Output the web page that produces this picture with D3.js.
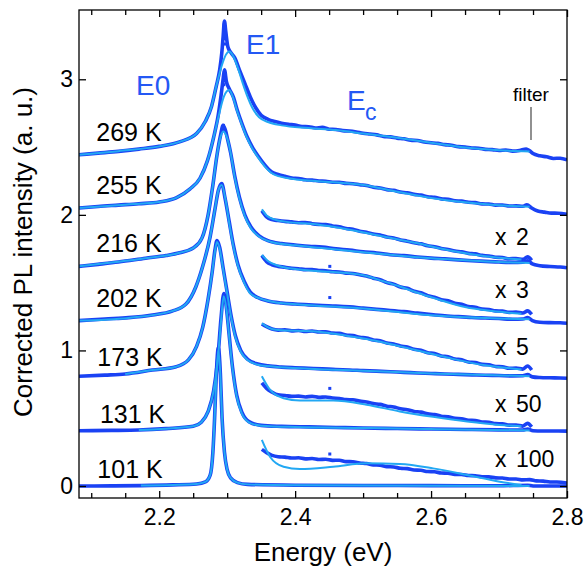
<!DOCTYPE html>
<html>
<head>
<meta charset="utf-8">
<script src="https://cdn.jsdelivr.net/npm/d3@7/dist/d3.min.js"></script>
<style>
  body { margin: 0; background: #fff; }
  svg text { font-family: "Liberation Sans", Arial, Helvetica, sans-serif; }
</style>
</head>
<body>
<div id="chart"></div>
<script>
// ---- data (energy in eV, intensity in a.u.) ----
const temps = ['269 K', '255 K', '216 K', '202 K', '173 K', '131 K', '101 K'];
const factors = ['x 2', 'x 3', 'x 5', 'x 50', 'x 100'];
const xMajor = [2.2, 2.4, 2.6, 2.8];
const xMinor = [2.1, 2.15, 2.25, 2.3, 2.35, 2.45, 2.5, 2.55, 2.65, 2.7, 2.75];
const yMajor = [0, 1, 2, 3];

// measured spectra
const meas269 = [[2.082,2.443],[2.11,2.455],[2.14,2.468],[2.17,2.485],[2.2,2.505],[2.231,2.54],[2.255,2.6],[2.268,2.69],[2.277,2.8],[2.284,2.95],[2.289,3.07],[2.292,3.19],[2.294,3.31],[2.296,3.43],[2.298,3.35],[2.301,3.24],[2.305,3.2],[2.311,3.16],[2.318,3.07],[2.326,2.97],[2.334,2.87],[2.342,2.79],[2.35,2.735],
  [2.36,2.705],[2.37,2.688],[2.38,2.676],[2.39,2.668],[2.4,2.662],[2.41,2.652],[2.42,2.65],[2.43,2.641],[2.44,2.645],[2.45,2.632],[2.46,2.63],[2.47,2.621],[2.48,2.618],[2.49,2.611],[2.5,2.602],[2.51,2.596],[2.52,2.59],[2.53,2.578],[2.54,2.575],[2.55,2.566],[2.56,2.561],[2.57,2.551],[2.58,2.548],[2.59,2.537],[2.6,2.532],[2.61,2.527],[2.62,2.518],[2.63,2.514],[2.64,2.503],[2.65,2.5],[2.66,2.493],[2.67,2.491],[2.68,2.483],[2.69,2.481],[2.7,2.475],[2.71,2.478],[2.72,2.47],[2.73,2.474],[2.74,2.486],[2.745,2.472],[2.75,2.452],[2.76,2.436],[2.77,2.428],[2.78,2.416],[2.79,2.418],[2.8,2.405]];
const meas255 = [[2.082,2.05],[2.11,2.062],[2.14,2.072],[2.17,2.082],[2.2,2.095],[2.225,2.125],[2.245,2.19],[2.26,2.27],[2.271,2.4],[2.28,2.57],[2.287,2.74],[2.291,2.88],[2.294,3.0],[2.296,3.07],[2.299,2.98],[2.303,2.93],[2.309,2.87],[2.315,2.77],[2.322,2.67],[2.329,2.58],[2.337,2.5],[2.346,2.43],[2.355,2.37],
  [2.365,2.318],[2.375,2.298],[2.385,2.284],[2.395,2.272],[2.405,2.268],[2.415,2.259],[2.425,2.256],[2.435,2.25],[2.445,2.248],[2.455,2.241],[2.465,2.24],[2.475,2.232],[2.485,2.23],[2.495,2.222],[2.505,2.216],[2.515,2.204],[2.525,2.198],[2.535,2.186],[2.545,2.181],[2.555,2.168],[2.565,2.163],[2.575,2.151],[2.585,2.146],[2.595,2.134],[2.605,2.129],[2.615,2.118],[2.625,2.114],[2.635,2.104],[2.645,2.101],[2.655,2.093],[2.665,2.09],[2.675,2.081],[2.685,2.08],[2.695,2.072],[2.705,2.073],[2.715,2.065],[2.725,2.066],[2.735,2.063],[2.741,2.075],[2.748,2.05],[2.757,2.028],[2.767,2.02],[2.777,2.013],[2.787,2.012],[2.8,2.004]];
const meas216 = [[2.082,1.62],[2.11,1.635],[2.14,1.652],[2.18,1.68],[2.21,1.7],[2.23,1.72],[2.25,1.755],[2.263,1.83],[2.272,2.0],[2.279,2.22],[2.285,2.44],[2.29,2.58],[2.294,2.66],[2.297,2.63],[2.301,2.55],[2.305,2.46],[2.311,2.29],[2.318,2.13],[2.326,2.0],[2.335,1.91],[2.347,1.845],
  [2.36,1.81],[2.38,1.788],[2.4,1.778],[2.42,1.768],[2.44,1.762],[2.46,1.749],[2.48,1.74],[2.5,1.728],[2.52,1.719],[2.54,1.706],[2.56,1.699],[2.58,1.689],[2.6,1.681],[2.62,1.675],[2.64,1.668],[2.66,1.662],[2.68,1.657],[2.7,1.652],[2.72,1.649],[2.735,1.651],[2.742,1.662],[2.749,1.638],[2.76,1.625],[2.775,1.619],[2.79,1.615],[2.8,1.61]];
const meas202 = [[2.082,1.22],[2.12,1.232],[2.155,1.242],[2.19,1.262],[2.219,1.29],[2.239,1.34],[2.254,1.47],[2.264,1.62],[2.275,1.84],[2.282,2.04],[2.287,2.18],[2.292,2.23],[2.297,2.12],[2.303,1.95],[2.309,1.78],[2.316,1.63],[2.325,1.51],[2.334,1.43],[2.345,1.39],
  [2.36,1.365],[2.38,1.35],[2.4,1.342],[2.42,1.336],[2.44,1.331],[2.46,1.327],[2.48,1.321],[2.5,1.312],[2.52,1.303],[2.54,1.295],[2.56,1.286],[2.58,1.275],[2.6,1.265],[2.62,1.256],[2.64,1.249],[2.66,1.243],[2.68,1.239],[2.7,1.235],[2.72,1.23],[2.735,1.232],[2.742,1.242],[2.749,1.22],[2.76,1.208],[2.775,1.205],[2.79,1.204],[2.8,1.2]];
const meas173 = [[2.082,0.81],[2.12,0.818],[2.15,0.826],[2.19,0.855],[2.225,0.88],[2.243,0.93],[2.255,1.03],[2.264,1.17],[2.272,1.38],[2.278,1.58],[2.282,1.74],[2.285,1.81],[2.289,1.76],[2.294,1.61],[2.3,1.43],[2.306,1.25],[2.312,1.11],[2.32,1.0],[2.33,0.935],[2.345,0.9],
  [2.36,0.886],[2.38,0.877],[2.4,0.872],[2.42,0.868],[2.44,0.864],[2.46,0.859],[2.48,0.856],[2.5,0.851],[2.52,0.847],[2.54,0.843],[2.56,0.838],[2.58,0.834],[2.6,0.83],[2.62,0.826],[2.64,0.823],[2.66,0.82],[2.68,0.817],[2.7,0.815],[2.72,0.812],[2.735,0.813],[2.742,0.822],[2.749,0.805],[2.76,0.8],[2.775,0.798],[2.79,0.797],[2.8,0.795]];
const meas131 = [[2.082,0.408],[2.13,0.41],[2.17,0.413],[2.21,0.423],[2.25,0.44],[2.262,0.47],[2.272,0.55],[2.28,0.7],[2.286,0.93],[2.291,1.24],[2.295,1.42],[2.299,1.31],[2.303,1.11],[2.308,0.87],[2.314,0.67],[2.322,0.54],[2.332,0.475],[2.35,0.447],[2.38,0.44],[2.42,0.436],[2.46,0.432],[2.5,0.428],[2.55,0.424],[2.6,0.42],[2.65,0.417],[2.7,0.414],[2.735,0.413],[2.742,0.42],[2.75,0.408],[2.77,0.406],[2.8,0.405]];
const meas101 = [[2.082,0.0],[2.13,0.001],[2.173,0.003],[2.22,0.008],[2.255,0.015],[2.268,0.03],[2.275,0.08],[2.279,0.25],[2.2815,0.5],[2.284,0.82],[2.287,1.02],[2.29,0.83],[2.2925,0.5],[2.296,0.25],[2.3,0.12],[2.305,0.06],[2.315,0.025],[2.33,0.012],[2.4,0.006],[2.5,0.004],[2.6,0.003],[2.7,0.002],[2.742,0.006],[2.75,0.0],[2.8,0.0]];

// magnified tails, measured
const measX2 = [[2.351,2.03],[2.358,1.985],[2.366,1.965],[2.375,1.958],[2.385,1.952],[2.395,1.948],[2.405,1.942],[2.415,1.944],[2.425,1.935],[2.435,1.93],[2.445,1.928],[2.455,1.918],[2.465,1.912],[2.475,1.9],[2.485,1.893],[2.495,1.879],[2.505,1.872],[2.515,1.858],[2.525,1.851],[2.535,1.836],[2.545,1.829],[2.555,1.815],[2.565,1.806],[2.575,1.795],[2.585,1.786],[2.595,1.772],[2.605,1.765],[2.615,1.752],[2.625,1.745],[2.635,1.733],[2.645,1.727],[2.655,1.716],[2.665,1.712],[2.675,1.701],[2.685,1.697],[2.695,1.687],[2.705,1.685],[2.715,1.676],[2.725,1.678],[2.735,1.672],[2.742,1.69],[2.748,1.665]];
const measX3 = [[2.351,1.7],[2.358,1.655],[2.366,1.632],[2.375,1.62],[2.385,1.614],[2.395,1.606],[2.405,1.603],[2.415,1.596],[2.425,1.597],[2.435,1.589],[2.445,1.588],[2.455,1.58],[2.465,1.579],[2.475,1.57],[2.485,1.568],[2.495,1.558],[2.505,1.549],[2.515,1.533],[2.525,1.521],[2.535,1.5],[2.545,1.489],[2.555,1.468],[2.565,1.458],[2.575,1.437],[2.585,1.425],[2.595,1.404],[2.605,1.393],[2.615,1.374],[2.625,1.366],[2.635,1.348],[2.645,1.341],[2.655,1.324],[2.665,1.319],[2.675,1.305],[2.685,1.302],[2.695,1.292],[2.705,1.29],[2.715,1.281],[2.725,1.283],[2.735,1.276],[2.742,1.292],[2.748,1.266]];
const measX5 = [[2.351,1.195],[2.358,1.175],[2.366,1.158],[2.375,1.15],[2.385,1.152],[2.395,1.144],[2.405,1.147],[2.415,1.14],[2.425,1.143],[2.435,1.136],[2.445,1.137],[2.455,1.128],[2.465,1.126],[2.475,1.113],[2.485,1.109],[2.495,1.097],[2.505,1.091],[2.515,1.077],[2.525,1.071],[2.535,1.055],[2.545,1.047],[2.555,1.033],[2.565,1.025],[2.575,1.008],[2.585,1.001],[2.595,0.983],[2.605,0.977],[2.615,0.959],[2.625,0.953],[2.635,0.937],[2.645,0.931],[2.655,0.915],[2.665,0.911],[2.675,0.897],[2.685,0.894],[2.695,0.882],[2.705,0.879],[2.715,0.868],[2.725,0.87],[2.735,0.862],[2.742,0.885],[2.748,0.856]];
const measX50 = [[2.351,0.76],[2.358,0.72],[2.366,0.692],[2.375,0.672],[2.385,0.668],[2.395,0.661],[2.405,0.663],[2.415,0.657],[2.425,0.661],[2.435,0.654],[2.445,0.657],[2.455,0.649],[2.465,0.646],[2.475,0.637],[2.485,0.636],[2.495,0.626],[2.505,0.619],[2.515,0.608],[2.525,0.602],[2.535,0.589],[2.545,0.583],[2.555,0.57],[2.565,0.563],[2.575,0.55],[2.585,0.545],[2.595,0.532],[2.605,0.527],[2.615,0.515],[2.625,0.511],[2.635,0.499],[2.645,0.496],[2.655,0.485],[2.665,0.483],[2.675,0.472],[2.685,0.47],[2.695,0.46],[2.705,0.459],[2.715,0.449],[2.725,0.45],[2.735,0.442],[2.742,0.462],[2.748,0.436]];
const measX100 = [[2.351,0.27],[2.358,0.246],[2.366,0.226],[2.375,0.216],[2.385,0.213],[2.395,0.206],[2.405,0.208],[2.415,0.2],[2.425,0.203],[2.435,0.196],[2.445,0.197],[2.455,0.189],[2.465,0.19],[2.475,0.18],[2.485,0.179],[2.495,0.17],[2.505,0.166],[2.515,0.156],[2.525,0.153],[2.535,0.143],[2.545,0.14],[2.555,0.131],[2.565,0.128],[2.575,0.118],[2.585,0.116],[2.595,0.107],[2.605,0.105],[2.615,0.096],[2.625,0.094],[2.635,0.086],[2.645,0.085],[2.655,0.077],[2.665,0.076],[2.675,0.068],[2.685,0.067],[2.695,0.06],[2.705,0.059],[2.715,0.052],[2.725,0.052],[2.735,0.045],[2.745,0.047],[2.755,0.038],[2.765,0.036],[2.775,0.03],[2.785,0.029],[2.8,0.022]];

// isolated data points (narrow peak tops, spikes)
const dots = [[2.2955,3.40],[2.2962,3.36],[2.2955,3.30],[2.2965,3.26],[2.2958,3.05],[2.2963,3.01],[2.295,2.96],[2.2945,2.66],[2.2955,2.62],[2.451,1.62],[2.451,1.39],[2.451,0.72],[2.451,0.236]];

// fitted curves
const fit269 = [[2.082,2.443],[2.14,2.47],[2.2,2.505],[2.231,2.54],[2.255,2.6],[2.268,2.69],[2.277,2.8],[2.284,2.95],[2.292,3.1],[2.298,3.18],[2.303,3.205],[2.309,3.17],[2.316,3.08],[2.323,2.97],[2.33,2.87],[2.338,2.78],[2.347,2.72],[2.36,2.685],[2.38,2.66],[2.42,2.64],[2.46,2.625],[2.5,2.6],[2.55,2.568],[2.6,2.532],[2.65,2.497],[2.7,2.476],[2.745,2.468]];
const fit255 = [[2.082,2.05],[2.15,2.075],[2.2,2.095],[2.225,2.125],[2.245,2.19],[2.26,2.27],[2.271,2.4],[2.28,2.57],[2.288,2.74],[2.295,2.87],[2.303,2.92],[2.309,2.86],[2.315,2.76],[2.322,2.66],[2.329,2.57],[2.337,2.49],[2.346,2.42],[2.355,2.36],[2.368,2.3],[2.39,2.27],[2.43,2.25],[2.47,2.235],[2.5,2.22],[2.55,2.17],[2.6,2.125],[2.65,2.093],[2.7,2.07],[2.745,2.06]];
const fit216 = [[2.082,1.62],[2.13,1.648],[2.18,1.68],[2.23,1.72],[2.25,1.755],[2.263,1.83],[2.272,2.0],[2.279,2.22],[2.285,2.44],[2.29,2.57],[2.294,2.615],[2.299,2.58],[2.305,2.46],[2.311,2.28],[2.318,2.12],[2.326,1.99],[2.335,1.9],[2.347,1.84],[2.365,1.8],[2.4,1.775],[2.45,1.75],[2.5,1.725],[2.55,1.7],[2.6,1.68],[2.65,1.665],[2.7,1.652],[2.745,1.645]];
const fit202 = [[2.082,1.22],[2.155,1.24],[2.219,1.29],[2.239,1.34],[2.254,1.47],[2.264,1.62],[2.275,1.84],[2.282,2.04],[2.287,2.18],[2.292,2.22],[2.298,2.1],[2.303,1.94],[2.309,1.77],[2.316,1.62],[2.325,1.5],[2.334,1.42],[2.35,1.38],[2.37,1.355],[2.4,1.34],[2.5,1.31],[2.6,1.26],[2.745,1.23]];
const fit173 = [[2.15,0.826],[2.19,0.855],[2.225,0.88],[2.243,0.93],[2.255,1.03],[2.264,1.17],[2.272,1.38],[2.278,1.58],[2.282,1.73],[2.285,1.8],[2.289,1.75],[2.294,1.6],[2.3,1.42],[2.306,1.24],[2.312,1.1],[2.32,0.99],[2.33,0.93],[2.345,0.895],[2.37,0.88],[2.42,0.865],[2.5,0.85],[2.6,0.83],[2.745,0.81]];
const fit131 = [[2.17,0.413],[2.21,0.423],[2.25,0.44],[2.262,0.47],[2.272,0.55],[2.28,0.7],[2.286,0.92],[2.291,1.22],[2.295,1.4],[2.299,1.3],[2.303,1.1],[2.308,0.86],[2.314,0.66],[2.322,0.53],[2.332,0.47],[2.35,0.445],[2.4,0.435],[2.5,0.428],[2.6,0.42],[2.745,0.41]];
const fit101 = [[2.173,0.003],[2.22,0.008],[2.255,0.015],[2.268,0.03],[2.275,0.08],[2.279,0.25],[2.2815,0.5],[2.284,0.8],[2.287,1.0],[2.29,0.82],[2.2925,0.5],[2.296,0.25],[2.3,0.12],[2.305,0.06],[2.315,0.025],[2.33,0.012],[2.4,0.005],[2.745,0.0]];

// fitted magnified tails
const fitX2 = [[2.351,2.04],[2.358,1.995],[2.37,1.965],[2.385,1.95],[2.43,1.93],[2.48,1.89],[2.53,1.84],[2.58,1.79],[2.63,1.735],[2.68,1.695],[2.733,1.67]];
const fitX3 = [[2.351,1.705],[2.36,1.66],[2.375,1.625],[2.4,1.6],[2.45,1.58],[2.5,1.555],[2.53,1.51],[2.555,1.47],[2.58,1.425],[2.605,1.385],[2.65,1.32],[2.69,1.29],[2.733,1.27]];
const fitX5 = [[2.351,1.2],[2.36,1.17],[2.375,1.15],[2.43,1.14],[2.48,1.105],[2.52,1.07],[2.555,1.03],[2.6,0.975],[2.63,0.94],[2.68,0.89],[2.733,0.86]];
const fitX50 = [[2.351,0.81],[2.363,0.71],[2.383,0.647],[2.407,0.63],[2.456,0.63],[2.505,0.6],[2.554,0.55],[2.603,0.51],[2.653,0.475],[2.701,0.45],[2.733,0.44]];
const fitX100 = [[2.351,0.34],[2.363,0.216],[2.383,0.142],[2.407,0.125],[2.456,0.142],[2.505,0.167],[2.554,0.162],[2.603,0.13],[2.653,0.081],[2.701,0.032],[2.733,0.007]];

const measured = [meas269, meas255, meas216, meas202, meas173, meas131, meas101,
                  measX2, measX3, measX5, measX50, measX100];
const fitted = [fit269, fit255, fit216, fit202, fit173, fit131, fit101,
                fitX2, fitX3, fitX5, fitX50, fitX100];

// ---- layout ----
const W = 585, H = 569;
const dark = '#1a42f4';
const light = '#22a8f3';
const labelBlue = '#2458f4';

const svg = d3.select('#chart').append('svg')
  .attr('width', W).attr('height', H)
  .attr('viewBox', `0 0 ${W} ${H}`);

const x = d3.scaleLinear().domain([2.082, 2.8]).range([79, 567]);
const y = d3.scaleLinear().domain([-0.0885, 3.511]).range([498, 10]);

const plot = svg.append('g');
plot.append('clipPath').attr('id', 'clip')
  .append('rect').attr('x', 79).attr('y', 10).attr('width', 488).attr('height', 488);

const line = d3.line().x(d => x(d[0])).y(d => y(d[1])).curve(d3.curveMonotoneX);
const curves = plot.append('g').attr('clip-path', 'url(#clip)');

measured.forEach(s => {
  curves.append('path').attr('d', line(s))
    .attr('fill', 'none').attr('stroke', dark)
    .attr('stroke-width', 3.6).attr('stroke-linejoin', 'round');
});

curves.selectAll('.dot').data(dots).enter().append('rect')
  .attr('class', 'dot')
  .attr('x', d => x(d[0]) - 1.5).attr('y', d => y(d[1]) - 1.5)
  .attr('width', 3).attr('height', 3).attr('fill', dark);

fitted.forEach(s => {
  curves.append('path').attr('d', line(s))
    .attr('fill', 'none').attr('stroke', light)
    .attr('stroke-width', 2).attr('stroke-linejoin', 'round');
});

// ---- axes (ticks inward) ----
function styleAxis(g) {
  g.select('.domain').remove();
  g.selectAll('line').attr('stroke', '#000').attr('stroke-width', 1.3);
  g.selectAll('text').attr('fill', '#000').attr('font-size', 23)
    .attr('font-family', '"Liberation Sans", Arial, sans-serif');
}

svg.append('g').attr('transform', 'translate(0,498)')
  .call(d3.axisBottom(x).tickValues(xMajor).tickSize(-7).tickPadding(11).tickFormat(d3.format('.1f')))
  .call(styleAxis);
svg.append('g').attr('transform', 'translate(0,498)')
  .call(d3.axisBottom(x).tickValues(xMinor).tickSize(-5).tickFormat(''))
  .call(styleAxis);
svg.append('g').attr('transform', 'translate(0,10)')
  .call(d3.axisTop(x).tickValues(xMajor).tickSize(-7).tickFormat(''))
  .call(styleAxis);
svg.append('g').attr('transform', 'translate(0,10)')
  .call(d3.axisTop(x).tickValues(xMinor).tickSize(-5).tickFormat(''))
  .call(styleAxis);
svg.append('g').attr('transform', 'translate(79,0)')
  .call(d3.axisLeft(y).tickValues(yMajor).tickSize(-7).tickPadding(6).tickFormat(d3.format('d')))
  .call(styleAxis);
svg.append('g').attr('transform', 'translate(567,0)')
  .call(d3.axisRight(y).tickValues(yMajor).tickSize(-7).tickFormat(''))
  .call(styleAxis);

svg.append('rect').attr('x', 79).attr('y', 10).attr('width', 488).attr('height', 488)
  .attr('fill', 'none').attr('stroke', '#000').attr('stroke-width', 1.3);

// ---- axis titles ----
svg.append('text').attr('x', 323).attr('y', 561)
  .attr('text-anchor', 'middle').attr('font-size', 26).text('Energy (eV)');
svg.append('text').attr('transform', 'translate(32,252) rotate(-90)')
  .attr('text-anchor', 'middle').attr('font-size', 26).text('Corrected PL intensity (a. u.)');

// ---- annotations ----
const tempPos = [[2.1074, 2.546], [2.1074, 2.153], [2.1074, 1.725], [2.1074, 1.323],
                 [2.109, 0.886], [2.1128, 0.467], [2.109, 0.057]];
svg.selectAll('.temp').data(temps).enter().append('text')
  .attr('class', 'temp')
  .attr('x', (d, i) => x(tempPos[i][0])).attr('y', (d, i) => y(tempPos[i][1]))
  .attr('font-size', 25).attr('fill', '#000').text(d => d);

const factorY = [1.775, 1.384, 0.963, 0.546, 0.140];
const fg = svg.selectAll('.factor').data(factors).enter().append('text')
  .attr('class', 'factor')
  .attr('y', (d, i) => y(factorY[i]))
  .attr('font-size', 23).attr('fill', '#000');
fg.append('tspan').attr('x', 495).text(d => d.split(' ')[0]);
fg.append('tspan').attr('x', 516).text(d => d.split(' ')[1]);

svg.append('text').attr('x', 136).attr('y', 95).attr('font-size', 28)
  .attr('fill', labelBlue).text('E0');
svg.append('text').attr('x', 246).attr('y', 54).attr('font-size', 28)
  .attr('fill', labelBlue).text('E1');
svg.append('text').attr('x', 347).attr('y', 110).attr('font-size', 28)
  .attr('fill', labelBlue).text('E');
svg.append('text').attr('x', 365).attr('y', 120).attr('font-size', 23)
  .attr('fill', labelBlue).text('c');

svg.append('text').attr('x', 531).attr('y', 101).attr('text-anchor', 'middle')
  .attr('font-size', 19).attr('fill', '#000').text('filter');
svg.append('line').attr('x1', 531).attr('x2', 531).attr('y1', 107).attr('y2', 140)
  .attr('stroke', '#555').attr('stroke-width', 1.3);
</script>
</body>
</html>
